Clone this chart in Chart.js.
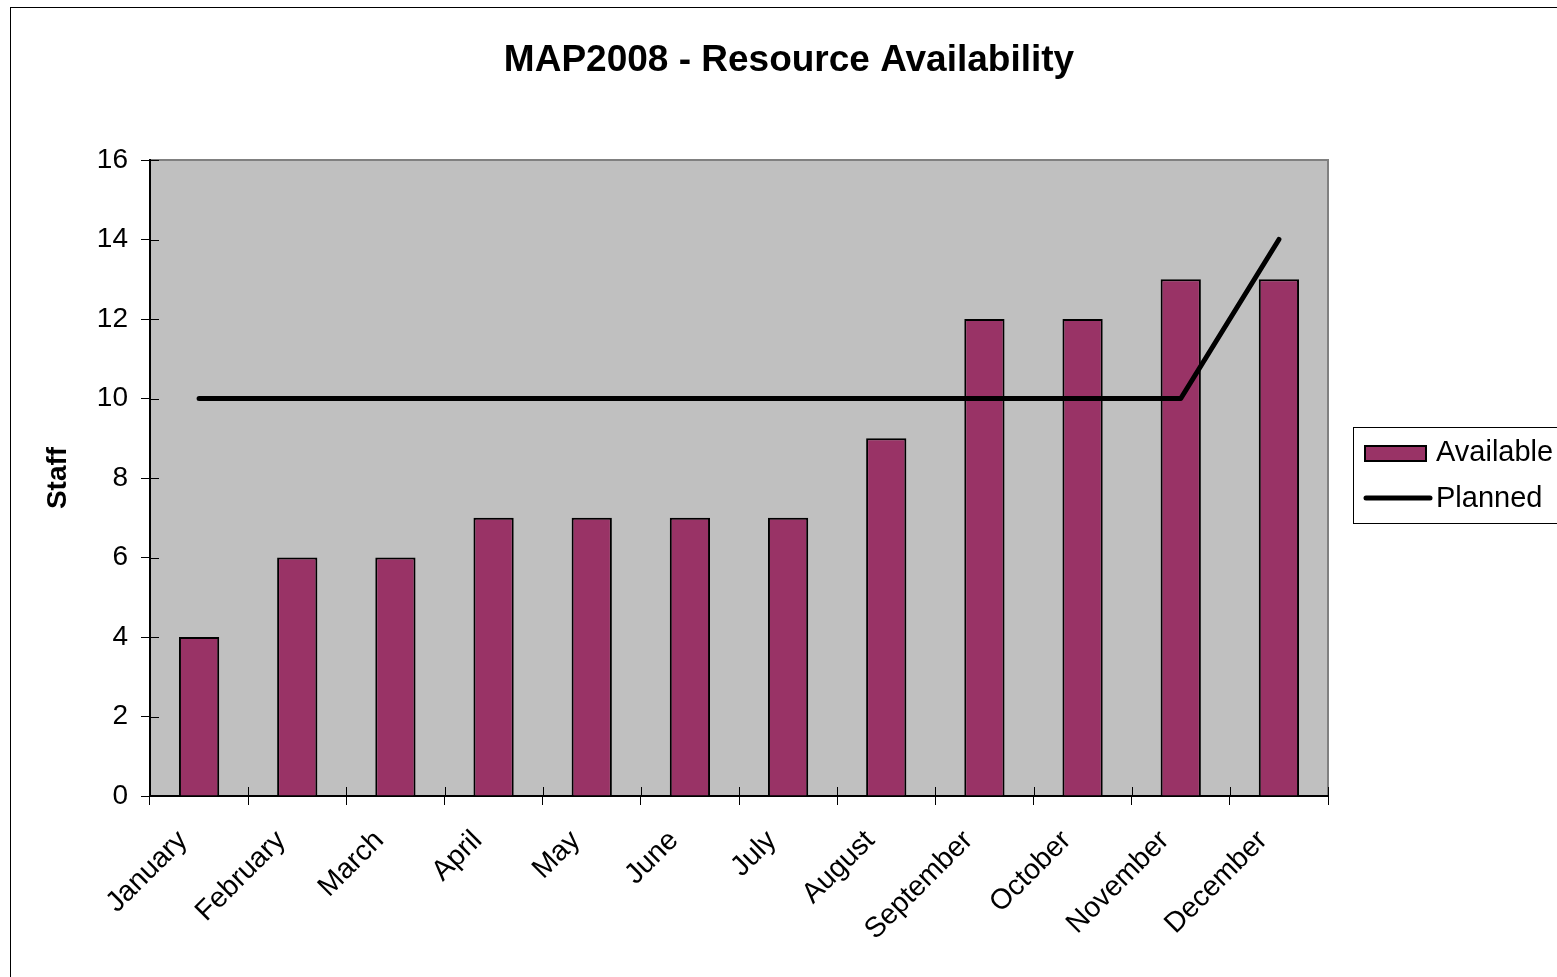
<!DOCTYPE html>
<html>
<head>
<meta charset="utf-8">
<title>MAP2008 - Resource Availability</title>
<script src="https://cdn.jsdelivr.net/npm/chart.js@4"></script>
<style>
  body { margin: 0; background: #fff; }
  canvas { display: block; }
</style>
</head>
<body>
<canvas id="resChart" width="1557" height="977"></canvas>
<script>
const months = ['January', 'February', 'March', 'April', 'May', 'June',
                'July', 'August', 'September', 'October', 'November', 'December'];
const available = [4, 6, 6, 7, 7, 7, 7, 9, 12, 12, 13, 13];
const planned = [10, 10, 10, 10, 10, 10, 10, 10, 10, 10, 10, 14];
const yTicks = { min: 0, max: 16, step: 2 };

const FONT = "'Liberation Sans', Arial, sans-serif";
Chart.defaults.color = '#000';
Chart.defaults.font.family = FONT;

// plot background, frame, title, legend, inner tick marks
const excelLook = {
    id: 'excelLook',
    beforeDraw(chart) {
        const ctx = chart.ctx, a = chart.chartArea;
        ctx.save();
        ctx.fillStyle = '#fff';
        ctx.fillRect(0, 0, chart.width, chart.height);
        ctx.fillStyle = '#c0c0c0';
        ctx.fillRect(a.left, a.top, a.right - a.left, a.bottom - a.top);
        ctx.strokeStyle = '#808080';
        ctx.lineWidth = 2;
        ctx.beginPath();
        ctx.moveTo(a.left, a.top);
        ctx.lineTo(a.right, a.top);
        ctx.lineTo(a.right, a.bottom);
        ctx.stroke();
        ctx.restore();
    },
    afterDraw(chart) {
        const ctx = chart.ctx, a = chart.chartArea;
        const xs = chart.scales.x, ys = chart.scales.y;
        ctx.save();

        // outer frame
        ctx.strokeStyle = '#000';
        ctx.lineWidth = 1;
        ctx.strokeRect(10.5, 7.5, chart.width, chart.height);

        // title
        ctx.fillStyle = '#000';
        ctx.font = 'bold 37px ' + FONT;
        ctx.textAlign = 'center';
        ctx.textBaseline = 'alphabetic';
        ctx.fillText('MAP2008 - Resource Availability', 789, 71);

        // tick marks crossing into the plot
        ctx.strokeStyle = '#000';
        ctx.lineWidth = 1;
        ctx.beginPath();
        ys.ticks.forEach(t => {
            const y = Math.round(ys.getPixelForValue(t.value)) + 0.5;
            ctx.moveTo(a.left, y);
            ctx.lineTo(a.left + 9, y);
        });
        const n = months.length;
        for (let i = 0; i <= n; i++) {
            const x = Math.round(xs.left + i * (xs.right - xs.left) / n) + 0.5;
            ctx.moveTo(x, a.bottom);
            ctx.lineTo(x, a.bottom - 9);
        }
        ctx.stroke();

        // legend
        const ds = chart.data.datasets;
        ctx.lineWidth = 1;
        ctx.strokeStyle = '#000';
        ctx.strokeRect(1353.5, 427.5, 300, 96);
        ctx.fillStyle = ds[0].backgroundColor;
        ctx.fillRect(1365, 446, 61, 15);
        ctx.lineWidth = 2;
        ctx.strokeRect(1365, 446, 61, 15);
        ctx.strokeStyle = ds[1].borderColor;
        ctx.lineWidth = 5;
        ctx.lineCap = 'round';
        ctx.beginPath();
        ctx.moveTo(1366, 498);
        ctx.lineTo(1430, 498);
        ctx.stroke();
        ctx.fillStyle = '#000';
        ctx.font = '29px ' + FONT;
        ctx.textAlign = 'left';
        ctx.textBaseline = 'middle';
        ctx.fillText(ds[0].label, 1436, 453);
        ctx.fillText(ds[1].label, 1436, 499);
        ctx.restore();
    }
};

new Chart(document.getElementById('resChart'), {
    type: 'bar',
    data: {
        labels: months,
        datasets: [{
            type: 'bar',
            label: 'Available',
            data: available,
            backgroundColor: '#993366',
            borderColor: '#000',
            borderWidth: 2,
            barPercentage: 0.41,
            categoryPercentage: 1,
            order: 1
        }, {
            type: 'line',
            label: 'Planned',
            data: planned,
            borderColor: '#000',
            borderWidth: 5,
            borderCapStyle: 'round',
            borderJoinStyle: 'round',
            pointRadius: 0,
            tension: 0,
            fill: false,
            order: 0
        }]
    },
    options: {
        responsive: false,
        animation: false,
        devicePixelRatio: 1,
        layout: { padding: { left: 0, top: 160, right: 229, bottom: 0 } },
        plugins: {
            legend: { display: false },
            title: { display: false },
            tooltip: { enabled: false }
        },
        scales: {
            x: {
                offset: true,
                grid: { offset: true, drawOnChartArea: false, tickLength: 9, color: '#000', tickWidth: 1 },
                border: { color: '#000', width: 2 },
                ticks: {
                    font: { size: 28.5 },
                    minRotation: 45,
                    maxRotation: 45,
                    autoSkip: false,
                    padding: 19,
                    labelOffset: -16
                },
                afterFit(scale) { scale.height = 181; }
            },
            y: {
                min: yTicks.min,
                max: yTicks.max,
                grid: { drawOnChartArea: false, tickLength: 9, color: '#000', tickWidth: 1 },
                border: { color: '#000', width: 2 },
                ticks: { stepSize: yTicks.step, font: { size: 28 }, padding: 13 },
                title: {
                    display: true,
                    text: 'Staff',
                    font: { size: 28, weight: 'bold' },
                    padding: { top: 41, bottom: 0 }
                },
                afterFit(scale) { scale.width = 150; }
            }
        }
    },
    plugins: [excelLook]
});
</script>
</body>
</html>
